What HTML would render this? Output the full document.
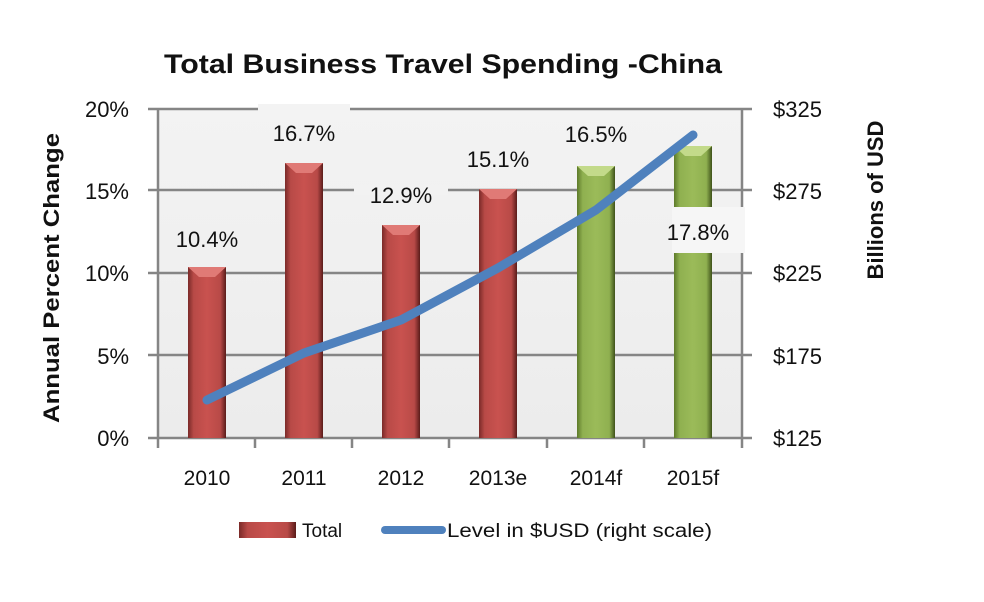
<!DOCTYPE html>
<html><head><meta charset="utf-8"><style>
body{margin:0;background:#fff}
svg text{font-family:"Liberation Sans",sans-serif;fill:#111}
</style></head><body>
<svg width="984" height="597" viewBox="0 0 984 597" xmlns="http://www.w3.org/2000/svg">
<defs>
<linearGradient id="red" x1="0" x2="1" y1="0" y2="0">
<stop offset="0" stop-color="#7a2a28"/><stop offset="0.15" stop-color="#b84a47"/><stop offset="0.5" stop-color="#c9524f"/><stop offset="0.85" stop-color="#b84a47"/><stop offset="1" stop-color="#5a1c1a"/></linearGradient>
<linearGradient id="green" x1="0" x2="1" y1="0" y2="0">
<stop offset="0" stop-color="#5d7a2a"/><stop offset="0.15" stop-color="#8fb050"/><stop offset="0.5" stop-color="#9bbb59"/><stop offset="0.85" stop-color="#8fb050"/><stop offset="1" stop-color="#3f521a"/></linearGradient>
<linearGradient id="bg" x1="0" x2="0" y1="0" y2="1"><stop offset="0" stop-color="#f3f3f3"/><stop offset="1" stop-color="#ececec"/></linearGradient>
</defs>
<rect x="158" y="109" width="584" height="329" fill="url(#bg)"/>
<g stroke="#858585" stroke-width="2.5">
<line x1="148" y1="109" x2="742" y2="109"/>
<line x1="148" y1="190" x2="742" y2="190"/>
<line x1="148" y1="273" x2="742" y2="273"/>
<line x1="148" y1="355" x2="742" y2="355"/>
<line x1="148" y1="438" x2="752" y2="438"/>
<line x1="158" y1="109" x2="158" y2="448"/>
<line x1="742" y1="109" x2="742" y2="438"/>
<line x1="255" y1="438" x2="255" y2="448"/>
<line x1="352" y1="438" x2="352" y2="448"/>
<line x1="449" y1="438" x2="449" y2="448"/>
<line x1="547" y1="438" x2="547" y2="448"/>
<line x1="644" y1="438" x2="644" y2="448"/>
<line x1="742" y1="438" x2="742" y2="448"/>
<line x1="742" y1="109" x2="752" y2="109"/>
<line x1="742" y1="190" x2="752" y2="190"/>
<line x1="742" y1="273" x2="752" y2="273"/>
<line x1="742" y1="355" x2="752" y2="355"/>
</g>
<g>
<rect x="188" y="267" width="38" height="171" fill="url(#red)"/>
<rect x="285" y="163" width="38" height="275" fill="url(#red)"/>
<rect x="382" y="225" width="38" height="213" fill="url(#red)"/>
<rect x="479" y="189" width="38" height="249" fill="url(#red)"/>
<rect x="577" y="166" width="38" height="272" fill="url(#green)"/>
<rect x="674" y="146" width="38" height="292" fill="url(#green)"/>
<polygon points="188,267 226,267 215,277 199,277" fill="#e07a76"/>
<polygon points="285,163 323,163 312,173 296,173" fill="#e07a76"/>
<polygon points="382,225 420,225 409,235 393,235" fill="#e07a76"/>
<polygon points="479,189 517,189 506,199 490,199" fill="#e07a76"/>
<polygon points="577,166 615,166 604,176 588,176" fill="#c3da8a"/>
<polygon points="674,146 712,146 701,156 685,156" fill="#c3da8a"/>
</g>
<rect x="258" y="104" width="92" height="10" fill="#f3f3f3"/>
<rect x="354" y="185" width="94" height="10" fill="#f2f2f2"/>
<rect x="672" y="207" width="73" height="46" fill="#f6f6f6"/>
<g font-size="22" text-anchor="middle">
<text x="207" y="247">10.4%</text>
<text x="304" y="141">16.7%</text>
<text x="401" y="203">12.9%</text>
<text x="498" y="167">15.1%</text>
<text x="596" y="142">16.5%</text>
<text x="698" y="240">17.8%</text>
</g>
<polyline points="207,400 304,353 401,320 498,268 596,210 693,135" fill="none" stroke="#4f81bd" stroke-width="9" stroke-linecap="round" stroke-linejoin="round"/>
<g font-size="22" text-anchor="end">
<text x="129" y="117">20%</text>
<text x="129" y="199">15%</text>
<text x="129" y="281">10%</text>
<text x="129" y="364">5%</text>
<text x="129" y="446">0%</text>
</g>
<g font-size="22" text-anchor="start">
<text x="773" y="117">$325</text>
<text x="773" y="199">$275</text>
<text x="773" y="281">$225</text>
<text x="773" y="364">$175</text>
<text x="773" y="446">$125</text>
</g>
<g font-size="21" text-anchor="middle">
<text x="207" y="485">2010</text>
<text x="304" y="485">2011</text>
<text x="401" y="485">2012</text>
<text x="498" y="485">2013e</text>
<text x="596" y="485">2014f</text>
<text x="693" y="485">2015f</text>
</g>
<text x="443" y="73" font-size="27" font-weight="bold" text-anchor="middle" textLength="558" lengthAdjust="spacingAndGlyphs">Total Business Travel Spending -China</text>
<text transform="translate(59,278) rotate(-90)" font-size="22" font-weight="bold" text-anchor="middle" textLength="290" lengthAdjust="spacingAndGlyphs">Annual Percent Change</text>
<text transform="translate(883,200) rotate(-90)" font-size="22" font-weight="bold" text-anchor="middle">Billions of USD</text>
<rect x="239" y="522" width="57" height="16" fill="url(#red)"/>
<text x="302" y="537" font-size="19">Total</text>
<line x1="385" y1="530" x2="442" y2="530" stroke="#4f81bd" stroke-width="8" stroke-linecap="round"/>
<text x="447" y="537" font-size="19" textLength="265" lengthAdjust="spacingAndGlyphs">Level in $USD (right scale)</text>
</svg>
</body></html>
